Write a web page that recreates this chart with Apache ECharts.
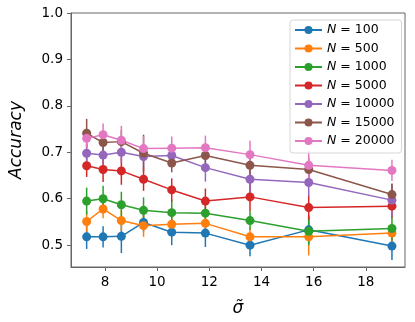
<!DOCTYPE html>
<html>
<head>
<meta charset="utf-8">
<script src="https://cdn.jsdelivr.net/npm/echarts@6/dist/echarts.min.js"></script>
<style>
  html, body { margin: 0; padding: 0; background: #fff; }
  #chart { width: 415px; height: 322px; }
</style>
</head>
<body>
<div id="chart"></div>
<script>
// x values (sigma tilde)
var sigmaTilde = [7.30, 7.93, 8.63, 9.48, 10.56, 11.85, 13.56, 15.81, 19.0]

var nLabels = ['100', '500', '1000', '5000', '10000', '15000', '20000']

// mean accuracy per N
var accN100 = [0.518, 0.518, 0.519, 0.549, 0.528, 0.526, 0.500, 0.533, 0.498]
var accN500 = [0.551, 0.578, 0.553, 0.542, 0.545, 0.547, 0.518, 0.518, 0.526]
var accN1000 = [0.595, 0.600, 0.587, 0.575, 0.570, 0.569, 0.553, 0.530, 0.536]
var accN5000 = [0.671, 0.663, 0.660, 0.642, 0.619, 0.595, 0.604, 0.581, 0.584]
var accN10000 = [0.698, 0.694, 0.700, 0.691, 0.693, 0.667, 0.642, 0.635, 0.597]
var accN15000 = [0.741, 0.721, 0.723, 0.698, 0.677, 0.693, 0.672, 0.663, 0.609]
var accN20000 = [0.730, 0.738, 0.726, 0.708, 0.709, 0.710, 0.695, 0.672, 0.661]

// error bar half lengths
var errN100 = [0.026, 0.023, 0.036, 0.020, 0.028, 0.030, 0.024, 0.030, 0.030]
var errN500 = [0.022, 0.020, 0.022, 0.024, 0.020, 0.020, 0.020, 0.040, 0.020]
var errN1000 = [0.029, 0.028, 0.028, 0.028, 0.028, 0.030, 0.020, 0.030, 0.026]
var errN5000 = [0.024, 0.027, 0.030, 0.025, 0.025, 0.027, 0.031, 0.026, 0.025]
var errN10000 = [0.020, 0.020, 0.022, 0.025, 0.020, 0.030, 0.030, 0.030, 0.035]
var errN15000 = [0.031, 0.025, 0.025, 0.040, 0.020, 0.025, 0.030, 0.025, 0.024]
var errN20000 = [0.020, 0.024, 0.031, 0.027, 0.025, 0.026, 0.030, 0.031, 0.023]

var xTicks = [8, 10, 12, 14, 16, 18]
var yTicks = [0.5, 0.6, 0.7, 0.8, 0.9, 1.0]

var accAll = [accN100, accN500, accN1000, accN5000, accN10000, accN15000, accN20000]
var errAll = [errN100, errN500, errN1000, errN5000, errN10000, errN15000, errN20000]
var colors = ['#1f77b4', '#ff7f0e', '#2ca02c', '#d62728', '#9467bd', '#8c564b', '#e377c2']

var FONT = 'DejaVu Sans'
var series = []
nLabels.forEach(function (n, i) {
  var col = colors[i]
  // error bars first, then the line + markers on top
  series.push({
    name: 'err' + n,
    type: 'custom',
    silent: true,
    encode: { x: 0, y: 1 },
    data: sigmaTilde.map(function (x, k) { return [x, accAll[i][k], errAll[i][k]] }),
    renderItem: function (params, api) {
      var x = api.value(0), y = api.value(1), e = api.value(2)
      var p1 = api.coord([x, y + e])
      var p2 = api.coord([x, y - e])
      return {
        type: 'line',
        shape: { x1: p1[0], y1: p1[1], x2: p2[0], y2: p2[1] },
        style: { stroke: col, lineWidth: 1.5 }
      }
    }
  })
  series.push({
    name: n,
    type: 'line',
    symbol: 'circle',
    symbolSize: 9,
    lineStyle: { color: col, width: 1.5 },
    itemStyle: { color: col },
    data: sigmaTilde.map(function (x, k) { return [x, accAll[i][k]] })
  })
})

var myChart = echarts.init(document.getElementById('chart'), null, { renderer: 'canvas' })
var options = {
  animation: false,
  backgroundColor: '#fff',
  grid: { left: 60, right: 10, top: 13, bottom: 50, show: true, borderColor: '#666', borderWidth: 1 },
  legend: {
    data: nLabels,
    orient: 'vertical',
    left: 290,
    top: 20,
    padding: [3, 7, 5, 4],
    itemWidth: 27,
    itemHeight: 10,
    itemGap: 4.5,
    backgroundColor: 'rgba(255,255,255,0.8)',
    borderColor: '#d6d6d6',
    borderWidth: 1,
    borderRadius: 3,
    formatter: function (name) { return '{i|N} = ' + name },
    textStyle: {
      fontFamily: FONT,
      fontSize: 12.5,
      lineHeight: 14,
      color: '#000',
      rich: {
        i: { fontFamily: FONT, fontStyle: 'italic', fontSize: 12.5, color: '#000' }
      }
    }
  },
  xAxis: {
    type: 'value',
    min: 6.7,
    max: 19.5,
    name: 'σ\u0303',
    nameLocation: 'middle',
    nameGap: 33,
    nameTextStyle: { fontFamily: FONT, fontStyle: 'italic', fontSize: 17, color: '#000' },
    axisLine: { show: true, onZero: false, lineStyle: { color: '#666', width: 1 } },
    axisTick: { show: true, length: 4, customValues: xTicks, lineStyle: { color: '#666' } },
    axisLabel: { customValues: xTicks, margin: 8, fontFamily: FONT, fontSize: 13.5, color: '#000' },
    splitLine: { show: false }
  },
  yAxis: {
    type: 'value',
    min: 0.453,
    max: 1.0,
    name: 'Accuracy',
    nameLocation: 'middle',
    nameGap: 46,
    nameTextStyle: { fontFamily: FONT, fontStyle: 'italic', fontSize: 17, color: '#000' },
    axisLine: { show: true, onZero: false, lineStyle: { color: '#666', width: 1 } },
    axisTick: { show: true, length: 4, customValues: yTicks, lineStyle: { color: '#666' } },
    axisLabel: {
      customValues: yTicks, margin: 8, fontFamily: FONT, fontSize: 13.5, color: '#000',
      formatter: function (v) { return v.toFixed(1) }
    },
    splitLine: { show: false }
  },
  series: series
}
myChart.setOption(options)
</script>
</body>
</html>
